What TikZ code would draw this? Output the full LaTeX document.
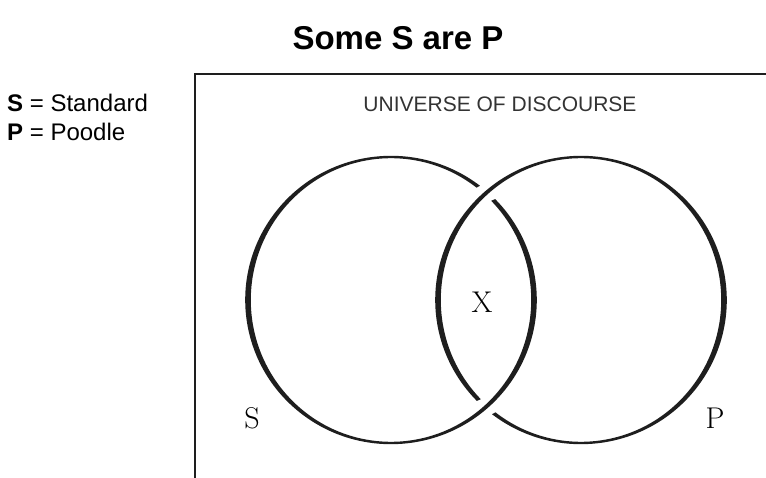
\documentclass[tikz,border=0pt]{standalone}
\usepackage{fontspec}
\setsansfont{Liberation Sans}
\usetikzlibrary{positioning}
\definecolor{inkblack}{HTML}{1E1E1E}
\definecolor{captiongray}{HTML}{333333}

% one calligraphic circle stroke: centre, start angle, end angle
\newcommand{\ringarc}[3]{%
  \fill[inkblack, shift={(#1)}] (#2:145.8pt and 144.2pt)
    arc[start angle=#2, end angle=#3, x radius=145.8pt, y radius=144.2pt]
    -- (#3:140.2pt and 141.8pt)
    arc[start angle=#3, end angle=#2, x radius=140.2pt, y radius=141.8pt] -- cycle;}

\begin{document}
\begin{tikzpicture}[x=1pt, y=1pt,
  heading/.style={font=\sffamily\bfseries\fontsize{33}{38}\selectfont, text=black},
  legend/.style={font=\sffamily\fontsize{24}{28}\selectfont, text=black, anchor=base west, inner sep=0pt},
  setlabel/.style={font=\fontsize{30}{35}\selectfont, text=black, anchor=base, inner sep=0pt}]

\useasboundingbox (0,0) rectangle (766,477);
\clip (0,0) rectangle (766,477);

% Title and legend
\node[heading] (title) at (398,439) {Some S are P};
\node[legend] (legendS) at (7,365) {\textbf{S} = Standard};
\node[legend] (legendP) at (7,336) {\textbf{P} = Poodle};

% Universe of discourse
\draw[inkblack, line width=2pt] (195,-5) -- (195,403) -- (775,403);
\node[font=\sffamily\fontsize{21}{24}\selectfont, text=captiongray, anchor=base, inner sep=0pt]
  (universe) at (500,365) {UNIVERSE OF DISCOURSE};

% Circles, linked at the crossings
\coordinate (cS) at (391,177);
\coordinate (cP) at (581,177);
\ringarc{cS}{52.4}{404.4}
\ringarc{cP}{232.4}{584.4}

% Labels
\node[setlabel] (labelS) at (252,49) {S};
\node[setlabel] (labelP) at (715,49) {P};
\node[setlabel] (labelX) at (482,164) {X};

\end{tikzpicture}
\end{document}
